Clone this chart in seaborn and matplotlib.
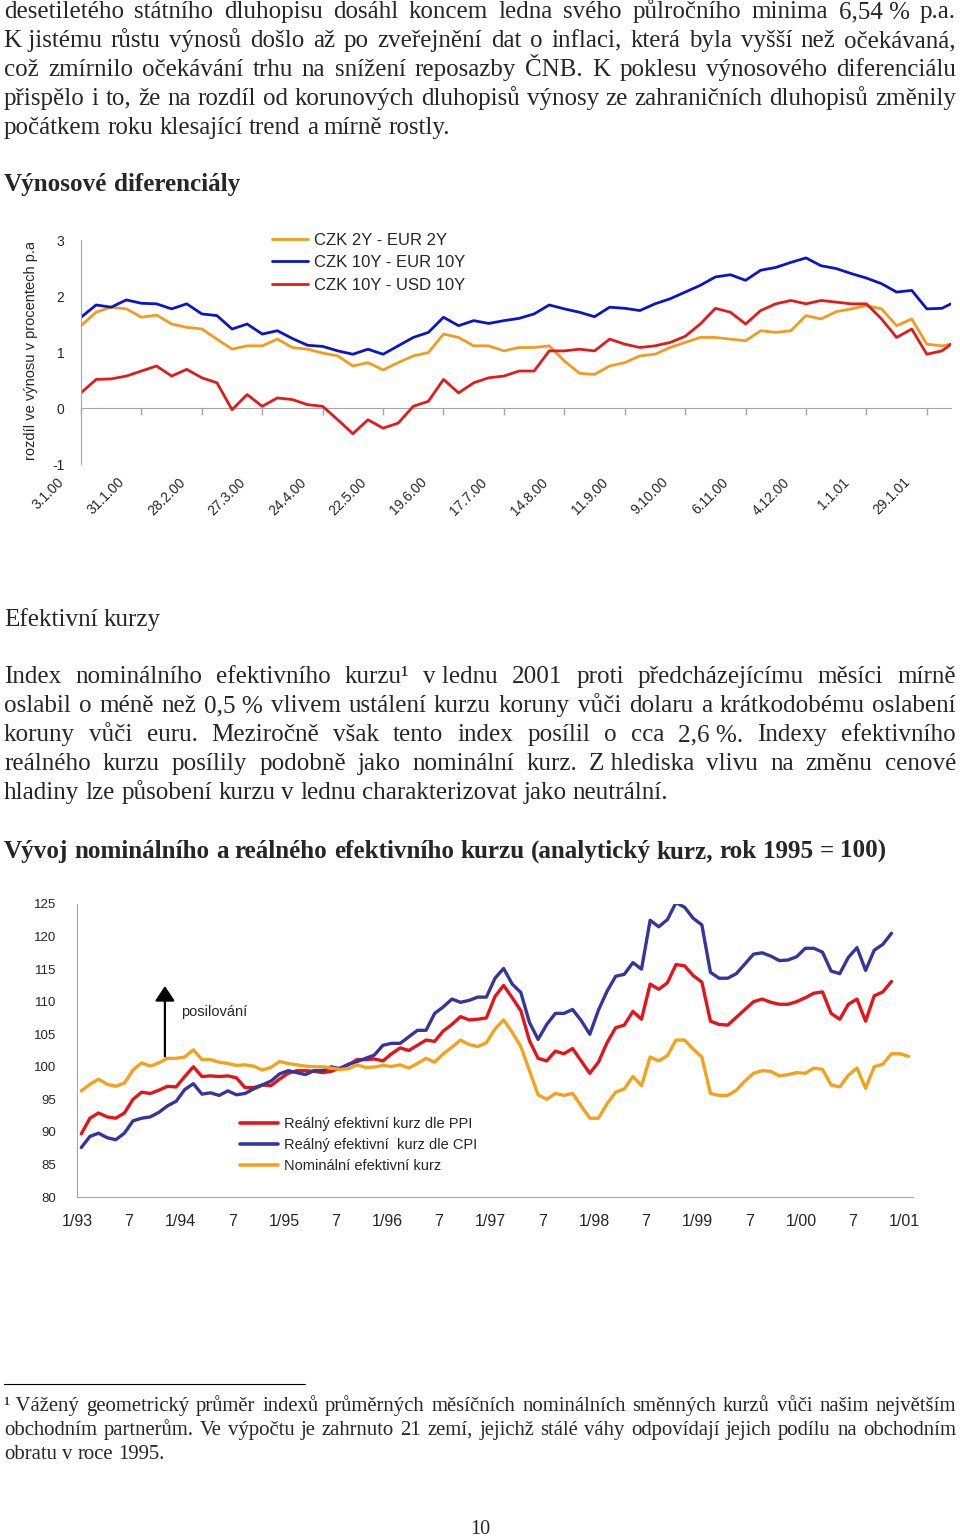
import numpy as np
import pandas as pd
import matplotlib
matplotlib.use("Agg")
import matplotlib.pyplot as plt
import seaborn as sns
from matplotlib.lines import Line2D
from matplotlib.transforms import ScaledTranslation, Bbox

W, H = 960, 1537
SERIF = ["Liberation Serif", "DejaVu Serif"]
SANS = ["Liberation Sans", "DejaVu Sans"]
GRAY = "#a6a6a6"

# --- yield differentials, weekly readings (business-day index from 3.1.2000) ---
bday = list(range(0, 290, 5)) + [288]
czk2y_eur2y = [1.47, 1.71, 1.80, 1.77, 1.62, 1.66, 1.50, 1.44, 1.41, 1.23,
               1.05, 1.11, 1.11, 1.23, 1.08, 1.05, 0.98, 0.93, 0.75, 0.81,
               0.68, 0.81, 0.93, 0.99, 1.32, 1.26, 1.11, 1.11, 1.02, 1.08,
               1.08, 1.11, 0.84, 0.62, 0.60, 0.75, 0.81, 0.93, 0.96, 1.08,
               1.17, 1.26, 1.26, 1.23, 1.20, 1.38, 1.35, 1.38, 1.65, 1.59,
               1.72, 1.77, 1.83, 1.77, 1.47, 1.59, 1.14, 1.11, 1.14]
czk10y_eur10y = [1.62, 1.84, 1.80, 1.93, 1.87, 1.86, 1.77, 1.86, 1.68, 1.65,
                 1.41, 1.50, 1.32, 1.38, 1.24, 1.12, 1.10, 1.02, 0.96, 1.05,
                 0.96, 1.11, 1.26, 1.35, 1.62, 1.47, 1.56, 1.51, 1.56, 1.60,
                 1.68, 1.84, 1.77, 1.71, 1.63, 1.80, 1.78, 1.74, 1.86, 1.95,
                 2.07, 2.19, 2.34, 2.38, 2.28, 2.46, 2.51, 2.60, 2.68, 2.54,
                 2.49, 2.40, 2.32, 2.22, 2.07, 2.10, 1.77, 1.78, 1.86]
czk10y_usd10y = [0.27, 0.51, 0.52, 0.57, 0.66, 0.75, 0.57, 0.69, 0.54, 0.45,
                 -0.03, 0.24, 0.03, 0.18, 0.15, 0.06, 0.03, -0.21, -0.46, -0.21,
                 -0.36, -0.27, 0.03, 0.12, 0.51, 0.27, 0.45, 0.54, 0.57, 0.66,
                 0.66, 1.02, 1.02, 1.05, 1.02, 1.23, 1.14, 1.08, 1.11, 1.17,
                 1.28, 1.50, 1.78, 1.71, 1.50, 1.74, 1.86, 1.92, 1.86, 1.92,
                 1.89, 1.86, 1.86, 1.59, 1.26, 1.41, 0.96, 1.02, 1.14]
spread_names = ["CZK 2Y - EUR 2Y", "CZK 10Y - EUR 10Y", "CZK 10Y - USD 10Y"]
spread_colors = ["#f29b1f", "#0a14c8", "#e21a1a"]
date_ticks = list(range(0, 281, 20))
date_labels = ["3.1.00", "31.1.00", "28.2.00", "27.3.00", "24.4.00", "22.5.00",
               "19.6.00", "17.7.00", "14.8.00", "11.9.00", "9.10.00", "6.11.00",
               "4.12.00", "1.1.01", "29.1.01"]

# --- effective exchange rate indices, monthly 1/93 .. 1/01 (1995 = 100) ---
months = list(range(97))
real_ppi = [89.7, 92.1, 92.9, 92.3, 92.1, 92.9, 95.0, 96.1, 95.9, 96.4,
            97.0, 96.9, 98.5, 100.0, 98.5, 98.6, 98.5, 98.6, 98.3, 96.8,
            96.8, 97.2, 97.1, 98.1, 99.0, 99.4, 99.4, 99.3, 99.1, 99.3,
            99.8, 100.3, 101.1, 101.1, 101.2, 100.9, 102.0, 102.9, 102.5, 103.3,
            104.1, 103.9, 105.5, 106.5, 107.7, 107.2, 107.3, 107.5, 110.8,
            112.5, 110.6, 108.6, 104.0, 101.3, 100.9, 102.4, 102.0, 102.8, 100.9,
            99.0, 100.7, 103.7, 106.0, 106.4, 108.5, 107.3, 112.7, 111.9, 112.9,
            115.7, 115.5, 114.0, 113.0, 107.0, 106.5, 106.4, 107.6, 108.8, 110.0,
            110.4, 109.9, 109.6, 109.6, 110.0, 110.6, 111.3, 111.5, 108.2, 107.3,
            109.6, 110.4, 107.0, 110.9, 111.5, 113.1]
real_cpi = [87.6, 89.3, 89.8, 89.1, 88.8, 89.8, 91.7, 92.1, 92.3, 93.0,
            94.0, 94.7, 96.5, 97.4, 95.8, 96.0, 95.6, 96.3, 95.7, 95.9,
            96.6, 97.2, 97.8, 98.9, 99.4, 99.1, 98.8, 99.4, 99.4, 100.0,
            99.7, 100.4, 100.8, 101.3, 101.8, 103.3, 103.6, 103.6, 104.6, 105.6,
            105.6, 108.2, 109.2, 110.4, 109.9, 110.2, 110.7, 110.7, 113.6,
            115.1, 112.7, 111.4, 106.8, 104.2, 106.5, 108.2, 108.2, 108.8, 107.1,
            105.0, 108.7, 111.6, 113.9, 114.2, 116.0, 115.0, 122.5, 121.5, 122.6,
            125.2, 124.5, 122.8, 121.8, 114.5, 113.6, 113.6, 114.3, 115.8, 117.3,
            117.5, 117.0, 116.3, 116.4, 116.9, 118.2, 118.2, 117.6, 114.7, 114.3,
            116.8, 118.3, 114.8, 117.9, 118.8, 120.5]
nominal = [96.3, 97.3, 98.1, 97.3, 97.0, 97.5, 99.5, 100.6, 100.1, 100.6,
           101.3, 101.3, 101.5, 102.6, 101.1, 101.1, 100.7, 100.5, 100.2, 100.3,
           100.1, 99.5, 99.9, 100.8, 100.5, 100.3, 100.1, 100.0, 100.0, 99.8,
           99.6, 99.7, 100.3, 99.9, 99.95, 100.2, 100.05, 100.3, 99.8, 100.5,
           101.3, 100.7, 102.0, 103.0, 104.1, 103.4, 103.1, 103.7, 105.8,
           107.2, 105.3, 103.1, 99.4, 95.7, 95.0, 95.9, 95.6, 95.9, 94.0,
           92.1, 92.1, 94.3, 96.1, 96.6, 98.5, 97.1, 101.5, 100.9, 101.7,
           104.1, 104.1, 102.7, 101.5, 95.9, 95.6, 95.6, 96.4, 97.8, 99.0,
           99.4, 99.3, 98.6, 98.8, 99.1, 99.0, 99.8, 99.6, 97.2, 96.9,
           98.7, 99.8, 96.7, 100.0, 100.4, 102.0, 102.0, 101.6]
eer_names = ["Reálný efektivní kurz dle PPI", "Reálný efektivní  kurz dle CPI",
             "Nominální efektivní kurz"]
eer_colors = ["#e3141c", "#35369a", "#f4a21d"]
month_labels = ["1/93", "7", "1/94", "7", "1/95", "7", "1/96", "7", "1/97", "7",
                "1/98", "7", "1/99", "7", "1/00", "7", "1/01"]

# --- page text ---
NB = "\u00a0"
para_top = [
    "desetiletého státního dluhopisu dosáhl koncem ledna svého půlročního minima 6,54" + NB + "% p.a.",
    "K" + NB + "jistému růstu výnosů došlo až po zveřejnění dat o inflaci, která byla vyšší než očekávaná,",
    "což zmírnilo očekávání trhu na snížení reposazby ČNB. K poklesu výnosového diferenciálu",
    "přispělo i to, že na rozdíl od korunových dluhopisů výnosy ze zahraničních dluhopisů změnily",
    "počátkem roku klesající trend a mírně rostly.",
]
para_eer = [
    "Index nominálního efektivního kurzu¹ v" + NB + "lednu 2001 proti předcházejícímu měsíci mírně",
    "oslabil o méně než 0,5" + NB + "% vlivem ustálení kurzu koruny vůči dolaru a krátkodobému oslabení",
    "koruny vůči euru. Meziročně však tento index posílil o cca 2,6" + NB + "%. Indexy efektivního",
    "reálného kurzu posílily podobně jako nominální kurz. Z" + NB + "hlediska vlivu na změnu cenové",
    "hladiny lze působení kurzu v lednu charakterizovat jako neutrální.",
]
footnote = [
    "¹" + NB + "Vážený geometrický průměr indexů průměrných měsíčních nominálních směnných kurzů vůči našim největším",
    "obchodním partnerům. Ve výpočtu je zahrnuto 21 zemí, jejichž stálé váhy odpovídají jejich podílu na obchodním",
    "obratu v roce 1995.",
]

sns.set_style("white")
plt.rcParams["font.family"] = SANS
plt.rcParams["axes.unicode_minus"] = False

fig = plt.figure(figsize=(W / 100, H / 100), dpi=100)
renderer = fig.canvas.get_renderer()


def measure(s, size, weight):
    t = fig.text(0, 0, s, fontsize=size, family=SERIF, weight=weight)
    w = t.get_window_extent(renderer).width
    t.remove()
    return w


def paragraph(lines, base, step, size, weight="normal", justify=True):
    span = 952
    if justify and len(lines) > 1:
        widest = max(measure(l, size, weight) for l in lines[:-1])
        if widest > span * 0.99:
            size *= span * 0.99 / widest
    space = measure("x x", size, weight) - measure("xx", size, weight)
    for k, line in enumerate(lines):
        y = 1 - (base + k * step) / H
        words = line.split(" ")
        arts = [fig.text(0, y, w, fontsize=size, family=SERIF, weight=weight,
                         va="baseline") for w in words]
        widths = [a.get_window_extent(renderer).width for a in arts]
        gap = space
        if justify and k < len(lines) - 1 and len(words) > 1:
            gap = (span - sum(widths)) / (len(words) - 1)
        x = 4
        for a, wd in zip(arts, widths):
            a.set_x(x / W)
            x += wd + gap


BODY = 18.1
paragraph(para_top, 18, 29, BODY)
paragraph(["Výnosové diferenciály"], 191, 29, BODY, weight="bold", justify=False)
paragraph(["Efektivní kurzy"], 626, 29, BODY, justify=False)
paragraph(para_eer, 683, 29, BODY)
paragraph(["Vývoj nominálního a reálného efektivního kurzu (analytický kurz, rok 1995 = 100)"],
          858, 29, BODY, weight="bold", justify=False)
paragraph(footnote, 1411, 24, 15.1)
fig.add_artist(Line2D([4 / W, 305 / W], [1 - 1384 / H] * 2, color="black", lw=0.8))
fig.text(480 / W, 1 - 1534 / H, "10", ha="center", va="baseline", fontsize=14.5, family=SERIF)

# ---------------- chart 1: yield differentials ----------------
df1 = pd.concat([pd.DataFrame({"den": bday, "rozdíl": v, "řada": n})
                 for n, v in zip(spread_names, [czk2y_eur2y, czk10y_eur10y, czk10y_usd10y])])
ax1 = fig.add_axes([81 / W, 1 - 464 / H, 870 / W, 224 / H])
sns.lineplot(data=df1, x="den", y="rozdíl", hue="řada", hue_order=spread_names,
             palette=spread_colors, linewidth=2.0, sort=False, estimator=None, ax=ax1)
ax1.set(xlim=(0, 288), ylim=(-1, 3), xlabel="", ylabel="")
ax1.set_yticks([-1, 0, 1, 2, 3])
ax1.set_xticks(date_ticks, labels=date_labels)
ax1.tick_params(axis="x", length=0, pad=8, labelsize=10, labelrotation=45)
shift = ScaledTranslation(-14 / 100, 0, fig.dpi_scale_trans)
for lab in ax1.get_xticklabels():
    lab.set_ha("right")
    lab.set_va("top")
    lab.set_transform(lab.get_transform() + shift)
ax1.tick_params(axis="y", length=5, width=1, color=GRAY, pad=7, labelsize=10)
for s in ["top", "right", "bottom"]:
    ax1.spines[s].set_visible(False)
ax1.spines["left"].set_color(GRAY)

zero_at = (0 - ax1.get_ylim()[0]) / (ax1.get_ylim()[1] - ax1.get_ylim()[0])
sec = ax1.secondary_xaxis(zero_at)
sec.set_xticks(date_ticks)
sec.tick_params(axis="x", length=5, width=1, color=GRAY, labelbottom=False, direction="out")
sec.spines["bottom"].set_color(GRAY)

leg = ax1.get_legend()
handles, labels = leg.legend_handles, [t.get_text() for t in leg.get_texts()]
for h in handles:
    h.set_linewidth(2.0)
ax1.legend(handles, labels, loc="upper left", bbox_to_anchor=(0.2195, 1.032),
           frameon=False, fontsize=12, handlelength=2.15, handletextpad=0.37,
           labelspacing=0.45, borderpad=0, borderaxespad=0)

yl = fig.text(31 / W, 1 - 460 / H, "rozdíl ve výnosu v procentech p.a.", rotation=90,
              ha="center", va="bottom", fontsize=10.5)
yl.set_clip_box(Bbox.from_extents(0, 0, W, H - 243))
yl.set_clip_on(True)

# ---------------- chart 2: effective exchange rates ----------------
df2 = pd.concat([pd.DataFrame({"měsíc": months[:len(v)], "index": v, "řada": n})
                 for n, v in zip(eer_names, [real_ppi, real_cpi, nominal])])
ax2 = fig.add_axes([77 / W, 1 - 1197 / H, 836 / W, 293 / H])
sns.lineplot(data=df2, x="měsíc", y="index", hue="řada", hue_order=eer_names,
             palette=eer_colors, linewidth=2.4, sort=False, estimator=None, ax=ax2)
ax2.set(xlim=(months[0] - 0.5, months[-1] + 0.5), ylim=(80, 125), xlabel="", ylabel="")
ax2.set_yticks(range(80, 126, 5))
bounds = [m - 0.5 for m in months] + [months[-1] + 0.5]
blabels = [month_labels[k // 6] if k % 6 == 0 and k // 6 < len(month_labels) else ""
           for k in range(len(bounds))]
ax2.set_xticks(bounds, labels=blabels)
ax2.tick_params(axis="x", length=4, width=1, color=GRAY, pad=8, labelsize=11.5)
ax2.tick_params(axis="y", length=5, width=1, color=GRAY, pad=10, labelsize=9.5)
for s in ["top", "right"]:
    ax2.spines[s].set_visible(False)
for s in ["left", "bottom"]:
    ax2.spines[s].set_color(GRAY)

ax2.annotate("", xy=(9.7, 112.4), xytext=(9.7, 101.6),
             arrowprops=dict(arrowstyle="-|>,head_width=0.3,head_length=0.45",
                             color="black", lw=1.6, mutation_scale=20,
                             shrinkA=0, shrinkB=0))
ax2.text(11.6, 108.4, "posilování", ha="left", va="center", fontsize=10.5)

leg2 = ax2.get_legend()
handles2, labels2 = leg2.legend_handles, [t.get_text() for t in leg2.get_texts()]
for h in handles2:
    h.set_linewidth(2.6)
ax2.legend(handles2, labels2, loc="upper left", bbox_to_anchor=(0.195, 0.274),
           frameon=False, fontsize=10.5, handlelength=2.6, handletextpad=0.41,
           labelspacing=0.49, borderpad=0, borderaxespad=0)

fig.savefig("out.png", dpi=100)
